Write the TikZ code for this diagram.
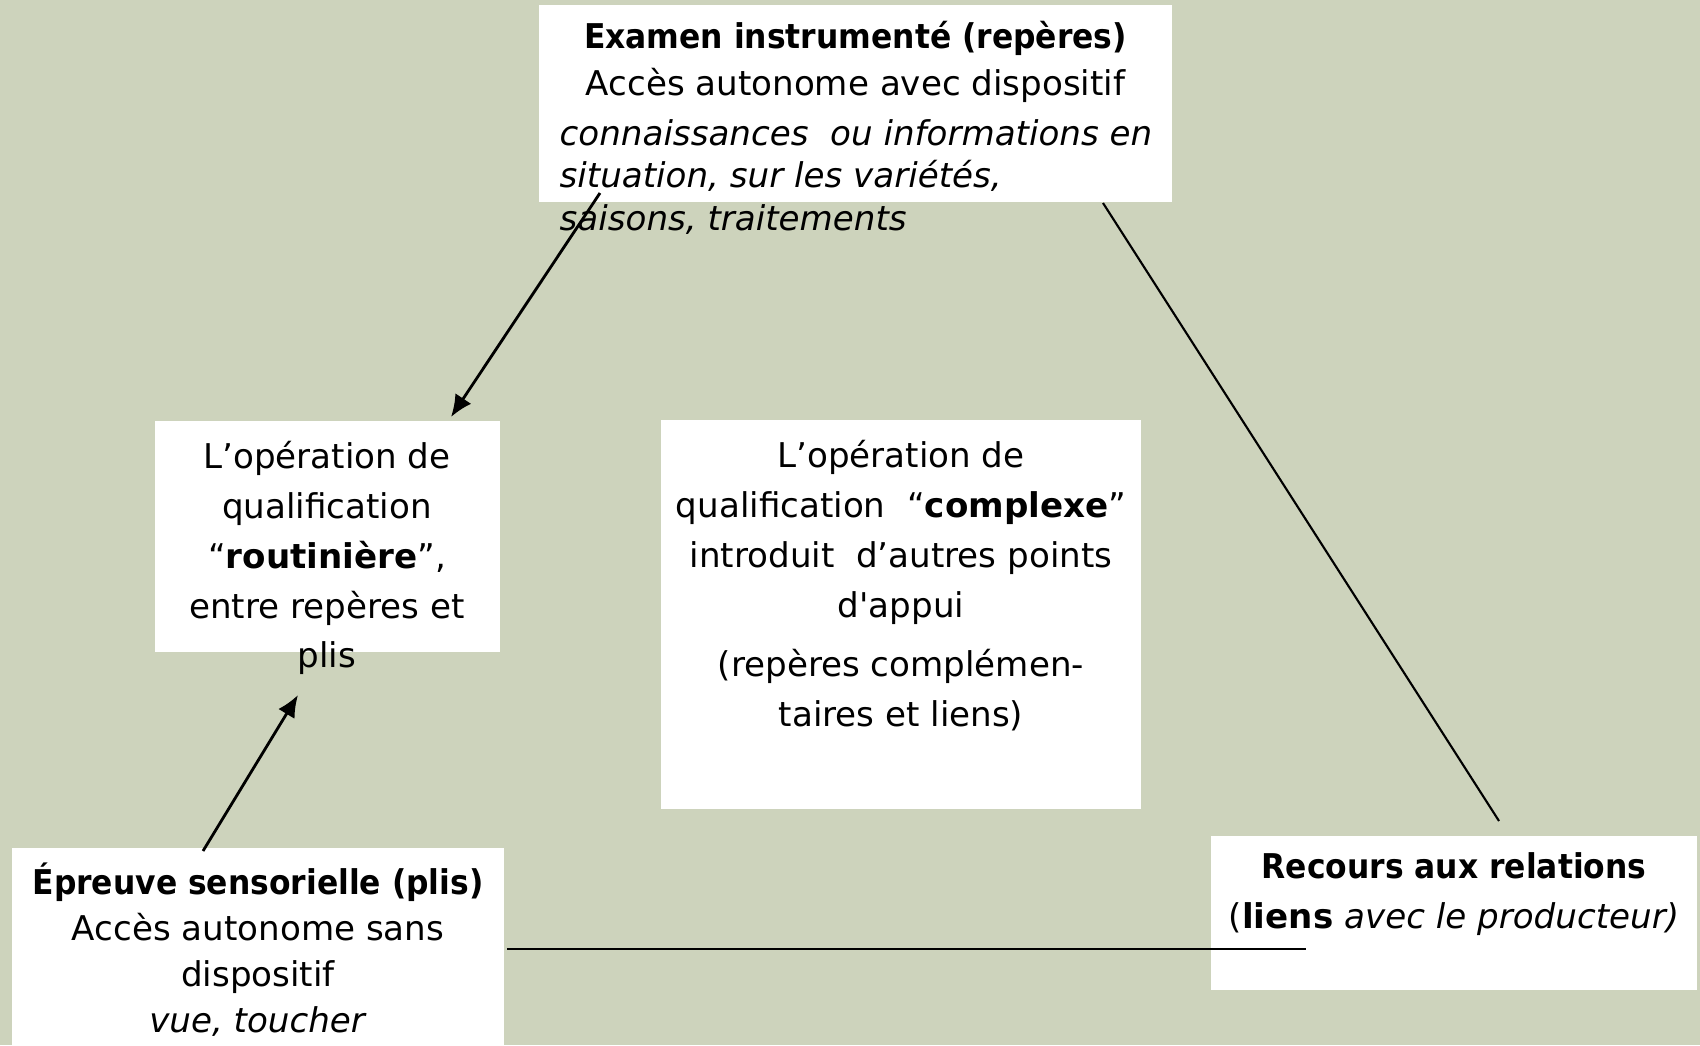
\documentclass[tikz,border=0pt]{standalone}
\usepackage{fontspec}
\usepackage{graphicx}
\setmainfont{DejaVu Sans}
\usetikzlibrary{arrows.meta}
\definecolor{sage}{RGB}{205,211,188}
\newcommand{\sq}{{\addfontfeatures{Ligatures=TeXOff}'}}
\newcommand{\hd}[1]{\scalebox{0.92}[1]{\textbf{#1}}}

\begin{document}
\begin{tikzpicture}[x=0.01cm, y=-0.01cm,
  box/.style={fill=white, inner sep=0pt},
  txt/.style={inner sep=0pt, align=center, font=\fontsize{9.7}{13.4}\selectfont},
  link/.style={line width=0.6pt},
  arr/.style={line width=0.8pt, -{Latex[length=2.2mm,width=1.9mm]}}]
\useasboundingbox[fill=sage] (0,0) rectangle (1700,1045);

% boxes
\node[box, minimum width=6.33cm, minimum height=1.97cm] (exam) at (855.5,103.5){};
\node[box, minimum width=3.45cm, minimum height=2.31cm] (routine) at (327.5,536.5){};
\node[box, minimum width=4.80cm, minimum height=3.89cm] (complex) at (901,614.5){};
\node[box, minimum width=4.92cm, minimum height=1.97cm] (sensory) at (258,946.5){};
\node[box, minimum width=4.86cm, minimum height=1.54cm] (relations) at (1454,913){};

% texts
\node[txt] (examhead) at (855.5,62){\hd{Examen instrumenté (repères)}\\Accès autonome avec dispositif};
\node[txt, align=left, anchor=west, font=\fontsize{9.7}{12.2}\selectfont\itshape] (examnote) at (559,177){connaissances~ ou informations en\\situation, sur les variétés,\\saisons, traitements};
\node[txt, font=\fontsize{9.7}{14.2}\selectfont] (routinetxt) at (327,558){L’opération de\\qualification\\“\textbf{routinière}”,\\entre repères et\\plis};
\node[txt, font=\fontsize{9.7}{14.2}\selectfont] (complextxt) at (901,586){L’opération de\\qualification~ “\textbf{complexe}”\\introduit~ d’autres points\\d\sq appui\\[2.6pt](repères complémen-\\taires et liens)};
\node[txt, font=\fontsize{9.7}{13.1}\selectfont] (sensorytxt) at (258,949.5){\hd{Épreuve sensorielle (plis)}\\Accès autonome sans\\dispositif\\\textit{vue, toucher}};
\node[txt, font=\fontsize{9.7}{14}\selectfont] (relationstxt) at (1454,894){\hd{Recours aux relations}\\(\textbf{liens} \textit{avec le producteur)}};

% connector ends
\coordinate (a1) at (600,193);
\coordinate (b1) at (451,417);
\coordinate (a2) at (203,851);
\coordinate (b2) at (298,695);
\coordinate (a3) at (1103,203);
\coordinate (b3) at (1499,821);
\coordinate (a4) at (507,949);
\coordinate (b4) at (1306,949);

\draw[arr] (a1) -- (b1);
\draw[arr] (a2) -- (b2);
\draw[link] (a3) -- (b3);
\draw[link] (a4) -- (b4);

\end{tikzpicture}
\end{document}
